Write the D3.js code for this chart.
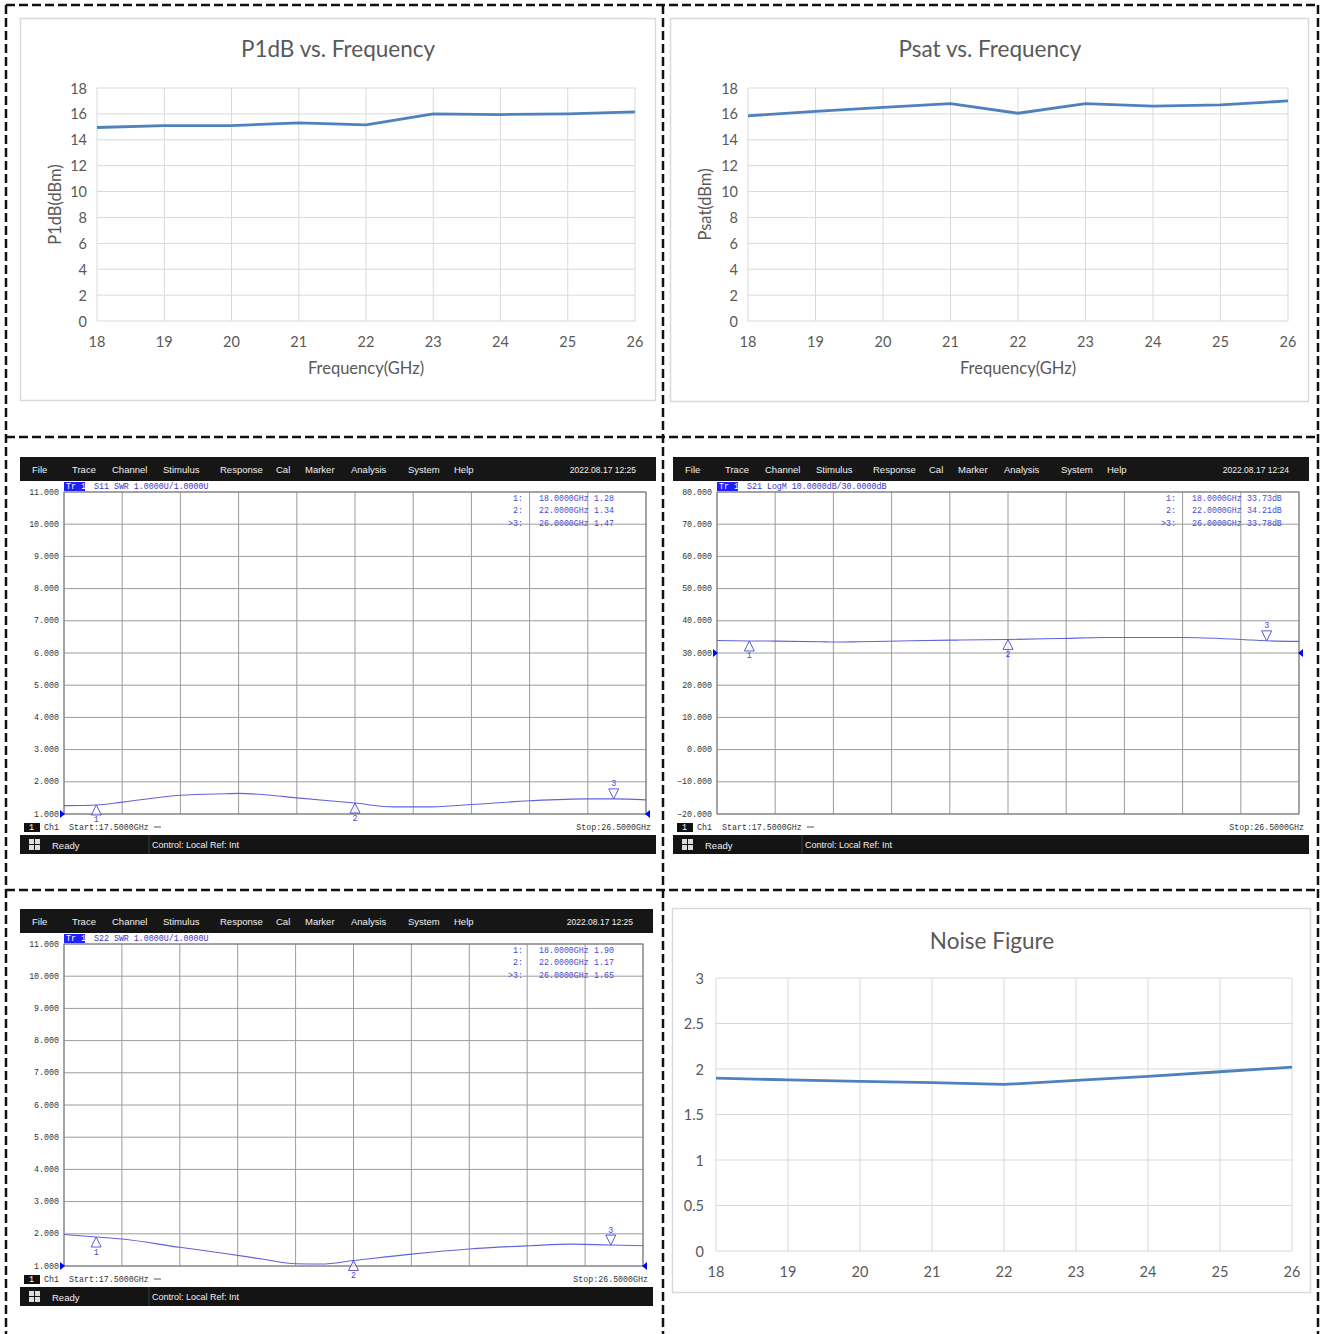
<!DOCTYPE html>
<html>
<head>
<meta charset="utf-8">
<script src="https://cdn.jsdelivr.net/npm/d3@7"></script>
<style>
  body { margin: 0; background: #fff; }
</style>
</head>
<body>
<script>
// ---- chart values ----
const freqGHz = [18, 19, 20, 21, 22, 23, 24, 25, 26];
const p1dbValues = [14.95, 15.1, 15.1, 15.3, 15.15, 16.0, 15.95, 16.0, 16.15];
const psatValues = [15.85, 16.2, 16.5, 16.8, 16.05, 16.8, 16.6, 16.7, 17.0];
const noiseValues = [1.9, 1.88, 1.865, 1.85, 1.83, 1.875, 1.92, 1.97, 2.02];

const p1dbTicks = [0, 2, 4, 6, 8, 10, 12, 14, 16, 18];
const noiseTicks = [0, 0.5, 1, 1.5, 2, 2.5, 3];

// analyzer traces
const s11Freq = [17.5, 18.0, 18.4, 19.3, 20.0, 20.2, 20.6, 21.1, 22.0, 22.6, 23.1, 23.7, 24.7, 25.6, 26.0, 26.5];
const s11Swr  = [1.26, 1.28, 1.37, 1.58, 1.63, 1.64, 1.60, 1.50, 1.34, 1.22, 1.22, 1.28, 1.41, 1.47, 1.47, 1.44];
const s21Freq = [17.5, 18.0, 18.4, 19.1, 19.3, 19.7, 20.5, 21.2, 22.0, 22.8, 23.5, 24.7, 25.6, 26.0, 26.5];
const s21Db   = [33.9, 33.75, 33.7, 33.5, 33.4, 33.5, 33.8, 34.0, 34.2, 34.5, 34.8, 34.8, 34.2, 33.8, 33.6];
const s22Freq = [17.5, 18.0, 18.4, 19.3, 20.0, 20.6, 21.1, 21.5, 22.0, 22.9, 23.8, 24.75, 25.4, 26.0, 26.5];
const s22Swr  = [1.98, 1.90, 1.84, 1.58, 1.39, 1.21, 1.07, 1.06, 1.17, 1.37, 1.53, 1.63, 1.68, 1.65, 1.63];

const markerFreqs = [18, 22, 26];
const markerNames = ["1:", "2:", ">3:"];
const s11Markers = [1.28, 1.34, 1.47];
const s21Markers = [33.73, 34.21, 33.78];
const s22Markers = [1.90, 1.17, 1.65];

const menuItems = ["File", "Trace", "Channel", "Stimulus", "Response", "Cal", "Marker", "Analysis", "System", "Help"];

const W = 1326, H = 1334;
const svg = d3.select("body").append("svg")
    .attr("width", W)
    .attr("height", H)
    .style("display", "block");

svg.append("rect").attr("width", W).attr("height", H).attr("fill", "#fff");

const excelFont = "Lato, 'Open Sans', sans-serif";
const monoFont = "'Liberation Mono', 'DejaVu Sans Mono', monospace";
const uiFont = "'Liberation Sans', Arial, sans-serif";

// Excel-style line chart
function excelChart(o) {
    const g = svg.append("g");
    g.append("rect")
        .attr("x", o.box[0] + 0.5).attr("y", o.box[1] + 0.5)
        .attr("width", o.box[2]).attr("height", o.box[3])
        .attr("fill", "#fff").attr("stroke", "#d9d9d9").attr("stroke-width", 1.5);

    const x = d3.scaleLinear().domain([18, 26]).range([o.l, o.r]);
    const y = d3.scaleLinear().domain(o.yDomain).range([o.b, o.t]);

    // gridlines
    g.selectAll(".hg").data(o.yTicks).join("line")
        .attr("x1", o.l).attr("x2", o.r)
        .attr("y1", d => y(d)).attr("y2", d => y(d))
        .attr("stroke", "#d9d9d9").attr("stroke-width", 1);
    g.selectAll(".vg").data(freqGHz).join("line")
        .attr("x1", d => x(d)).attr("x2", d => x(d))
        .attr("y1", o.t).attr("y2", o.b)
        .attr("stroke", "#d9d9d9").attr("stroke-width", 1);

    // tick labels
    g.selectAll(".yl").data(o.yTicks).join("text")
        .attr("x", o.l - o.yLabelGap).attr("y", d => y(d))
        .attr("text-anchor", "end").attr("dominant-baseline", "central")
        .attr("font-family", excelFont).attr("font-size", 14.5).attr("fill", "#595959")
        .text(d => d);
    g.selectAll(".xl").data(freqGHz).join("text")
        .attr("x", d => x(d)).attr("y", o.b + 20)
        .attr("text-anchor", "middle").attr("dominant-baseline", "central")
        .attr("font-family", excelFont).attr("font-size", 14.5).attr("fill", "#595959")
        .text(d => d);

    // title
    g.append("text")
        .attr("x", o.titleX).attr("y", o.titleY)
        .attr("text-anchor", "middle").attr("dominant-baseline", "central")
        .attr("font-family", excelFont).attr("font-size", 22.5).attr("fill", "#595959")
        .text(o.title);

    if (o.xTitle) {
        g.append("text")
            .attr("x", (o.l + o.r) / 2).attr("y", o.b + 47)
            .attr("text-anchor", "middle").attr("dominant-baseline", "central")
            .attr("font-family", excelFont).attr("font-size", 16.5).attr("fill", "#595959")
            .text(o.xTitle);
    }
    if (o.yTitle) {
        g.append("text")
            .attr("transform", `translate(${o.yTitleX},${(o.t + o.b) / 2}) rotate(-90)`)
            .attr("text-anchor", "middle").attr("dominant-baseline", "central")
            .attr("font-family", excelFont).attr("font-size", 16.5).attr("fill", "#595959")
            .text(o.yTitle);
    }

    const line = d3.line().x((d, i) => x(freqGHz[i])).y(d => y(d));
    g.append("path")
        .datum(o.values)
        .attr("fill", "none")
        .attr("stroke", "#4f81bd")
        .attr("stroke-width", 2.8)
        .attr("stroke-linejoin", "round")
        .attr("d", line);
}

// network analyzer screenshot
function vnaPanel(o) {
    const g = svg.append("g").attr("transform", `translate(${o.x},${o.y})`);
    const w = o.w;
    const left = 44, right = w - 10, top = 35, bottom = 357;

    // menu bar
    g.append("rect").attr("width", w).attr("height", 24).attr("fill", "#161616");
    const menuX = [12, 52, 92, 143, 200, 256, 285, 331, 388, 434];
    g.selectAll(".menu").data(menuItems).join("text")
        .attr("x", (d, i) => menuX[i]).attr("y", 12)
        .attr("dominant-baseline", "central")
        .attr("font-family", uiFont)
        .attr("font-size", 9.5).attr("fill", "#f0f0f0")
        .text(d => d);
    g.append("text")
        .attr("x", w - 20).attr("y", 13)
        .attr("text-anchor", "end").attr("dominant-baseline", "central")
        .attr("font-family", uiFont)
        .attr("font-size", 8.5).attr("fill", "#f0f0f0")
        .text(o.time);

    const x = d3.scaleLinear().domain([17.5, 26.5]).range([left, right]);
    const y = d3.scaleLinear().domain(o.yDomain).range([bottom, top]);
    const xGrid = d3.range(11).map(i => 17.5 + 0.9 * i);
    const yGrid = d3.range(11).map(i => o.yDomain[0] + i * (o.yDomain[1] - o.yDomain[0]) / 10);

    g.selectAll(".vg").data(xGrid).join("line")
        .attr("x1", d => x(d)).attr("x2", d => x(d))
        .attr("y1", top).attr("y2", bottom)
        .attr("stroke", "#9c9c9c").attr("stroke-width", 1);
    g.selectAll(".hg").data(yGrid).join("line")
        .attr("x1", left).attr("x2", right)
        .attr("y1", d => y(d)).attr("y2", d => y(d))
        .attr("stroke", "#9c9c9c").attr("stroke-width", 1);
    g.append("rect")
        .attr("x", left).attr("y", top)
        .attr("width", right - left).attr("height", bottom - top)
        .attr("fill", "none").attr("stroke", "#7a7a7a").attr("stroke-width", 1);

    g.selectAll(".yl").data(yGrid).join("text")
        .attr("x", left - 5).attr("y", d => y(d))
        .attr("text-anchor", "end").attr("dominant-baseline", "central")
        .attr("font-family", monoFont).attr("font-size", 8.3).attr("fill", "#333")
        .text(d => d3.format(".3f")(d));

    // trace header
    g.append("rect")
        .attr("x", left).attr("y", top - 10).attr("width", 21).attr("height", 9)
        .attr("fill", "#1f1fff");
    g.append("text")
        .attr("x", left + 2).attr("y", top - 5.5)
        .attr("dominant-baseline", "central")
        .attr("font-family", monoFont).attr("font-size", 8.3).attr("fill", "#fff")
        .text("Tr 1");
    g.append("text")
        .attr("x", left + 30).attr("y", top - 5.5)
        .attr("dominant-baseline", "central")
        .attr("font-family", monoFont).attr("font-size", 8.3).attr("fill", "#3535c8")
        .text(o.traceLabel);

    // trace
    const line = d3.line()
        .x((d, i) => x(o.freqs[i]))
        .y(d => y(d))
        .curve(d3.curveMonotoneX);
    g.append("path")
        .datum(o.values)
        .attr("fill", "none")
        .attr("stroke", "#6262dc")
        .attr("stroke-width", 1.1)
        .attr("d", line);

    // markers
    o.markers.forEach((v, i) => {
        const px = x(markerFreqs[i]), py = y(v);
        const active = i === o.markers.length - 1;
        const dir = active ? -1 : 1;
        g.append("path")
            .attr("d", `M${px},${py} L${px - 5},${py + dir * 10} L${px + 5},${py + dir * 10} Z`)
            .attr("fill", "#fff").attr("fill-opacity", 0.6)
            .attr("stroke", "#4a4ad0").attr("stroke-width", 0.9);
        g.append("text")
            .attr("x", px).attr("y", py + dir * 15)
            .attr("text-anchor", "middle").attr("dominant-baseline", "central")
            .attr("font-family", monoFont).attr("font-size", 8.3).attr("fill", "#4a4ad0")
            .text(i + 1);
    });

    // marker readout
    o.markers.forEach((v, i) => {
        const ry = top + 6 + i * 12.5;
        g.append("text")
            .attr("x", left + 459).attr("y", ry)
            .attr("text-anchor", "end").attr("dominant-baseline", "central")
            .attr("font-family", monoFont).attr("font-size", 8.3).attr("fill", "#4a4ad0")
            .text(markerNames[i]);
        g.append("text")
            .attr("x", left + 475).attr("y", ry)
            .attr("dominant-baseline", "central")
            .attr("font-family", monoFont).attr("font-size", 8.3).attr("fill", "#4a4ad0")
            .text(d3.format(".4f")(markerFreqs[i]) + "GHz");
        g.append("text")
            .attr("x", left + 530).attr("y", ry)
            .attr("dominant-baseline", "central")
            .attr("font-family", monoFont).attr("font-size", 8.3).attr("fill", "#4a4ad0")
            .text(d3.format(".2f")(v) + o.unit);
    });

    // reference level arrows
    const ry = y(o.refLevel);
    g.append("path")
        .attr("d", `M${left - 4},${ry - 4} L${left + 1},${ry} L${left - 4},${ry + 4} Z`)
        .attr("fill", "#0000ff");
    g.append("path")
        .attr("d", `M${right + 4},${ry - 4} L${right - 1},${ry} L${right + 4},${ry + 4} Z`)
        .attr("fill", "#0000ff");

    // channel row
    g.append("rect").attr("x", 4).attr("y", 366).attr("width", 16).attr("height", 9).attr("fill", "#111");
    g.append("text").attr("x", 9).attr("y", 370.5).attr("dominant-baseline", "central")
        .attr("font-family", monoFont).attr("font-size", 8.3).attr("fill", "#fff").text("1");
    g.append("text").attr("x", 24).attr("y", 370.5).attr("dominant-baseline", "central")
        .attr("font-family", monoFont).attr("font-size", 8.3).attr("fill", "#333").text("Ch1");
    g.append("text").attr("x", 49).attr("y", 370.5).attr("dominant-baseline", "central")
        .attr("font-family", monoFont).attr("font-size", 8.3).attr("fill", "#333").text("Start:17.5000GHz");
    g.append("line").attr("x1", 134).attr("x2", 141).attr("y1", 370).attr("y2", 370)
        .attr("stroke", "#555").attr("stroke-width", 1);
    g.append("text").attr("x", w - 5).attr("y", 370.5)
        .attr("text-anchor", "end").attr("dominant-baseline", "central")
        .attr("font-family", monoFont).attr("font-size", 8.3).attr("fill", "#333").text("Stop:26.5000GHz");

    // status bar
    g.append("rect").attr("y", 378).attr("width", w).attr("height", 19).attr("fill", "#141414");
    [[9, 382], [15, 382], [9, 388], [15, 388]].forEach(p => {
        g.append("rect").attr("x", p[0]).attr("y", p[1]).attr("width", 5).attr("height", 5).attr("fill", "#ddd");
    });
    g.append("text").attr("x", 32).attr("y", 388).attr("dominant-baseline", "central")
        .attr("font-family", uiFont).attr("font-size", 9.5)
        .attr("fill", "#f0f0f0").text("Ready");
    g.append("line").attr("x1", 129).attr("x2", 129).attr("y1", 378).attr("y2", 397)
        .attr("stroke", "#3a3a3a").attr("stroke-width", 1);
    g.append("text").attr("x", 132).attr("y", 388).attr("dominant-baseline", "central")
        .attr("font-family", uiFont).attr("font-size", 9)
        .attr("fill", "#f0f0f0").text("Control: Local   Ref: Int");
}

excelChart({
    box: [20, 18, 635, 382], title: "P1dB vs. Frequency", titleX: 338, titleY: 48,
    l: 97, r: 635, t: 88, b: 321, yDomain: [0, 18], yTicks: p1dbTicks, yLabelGap: 10,
    xTitle: "Frequency(GHz)", yTitle: "P1dB(dBm)", yTitleX: 55, values: p1dbValues
});
excelChart({
    box: [670, 18, 638, 383], title: "Psat vs. Frequency", titleX: 990, titleY: 48,
    l: 748, r: 1288, t: 88, b: 321, yDomain: [0, 18], yTicks: p1dbTicks, yLabelGap: 10,
    xTitle: "Frequency(GHz)", yTitle: "Psat(dBm)", yTitleX: 705, values: psatValues
});
excelChart({
    box: [672, 908, 638, 384], title: "Noise Figure", titleX: 992, titleY: 940,
    l: 716, r: 1292, t: 978, b: 1251, yDomain: [0, 3], yTicks: noiseTicks, yLabelGap: 12,
    values: noiseValues
});

vnaPanel({ x: 20, y: 457, w: 636, time: "2022.08.17 12:25", traceLabel: "S11 SWR 1.0000U/1.0000U",
    yDomain: [1, 11], refLevel: 1, freqs: s11Freq, values: s11Swr, markers: s11Markers, unit: "" });
vnaPanel({ x: 673, y: 457, w: 636, time: "2022.08.17 12:24", traceLabel: "S21 LogM 10.0000dB/30.0000dB",
    yDomain: [-20, 80], refLevel: 30, freqs: s21Freq, values: s21Db, markers: s21Markers, unit: "dB" });
vnaPanel({ x: 20, y: 909, w: 633, time: "2022.08.17 12:25", traceLabel: "S22 SWR 1.0000U/1.0000U",
    yDomain: [1, 11], refLevel: 1, freqs: s22Freq, values: s22Swr, markers: s22Markers, unit: "" });

// dashed frame around the six panels
const frame = svg.append("g")
    .attr("stroke", "#111").attr("stroke-width", 2.5).attr("stroke-dasharray", "9,4").attr("fill", "none");
[6, 663, 1318].forEach(fx => frame.append("line").attr("x1", fx).attr("x2", fx).attr("y1", 5).attr("y2", H));
[5, 437, 890].forEach(fy => frame.append("line").attr("x1", 6).attr("x2", 1318).attr("y1", fy).attr("y2", fy));
</script>
</body>
</html>
